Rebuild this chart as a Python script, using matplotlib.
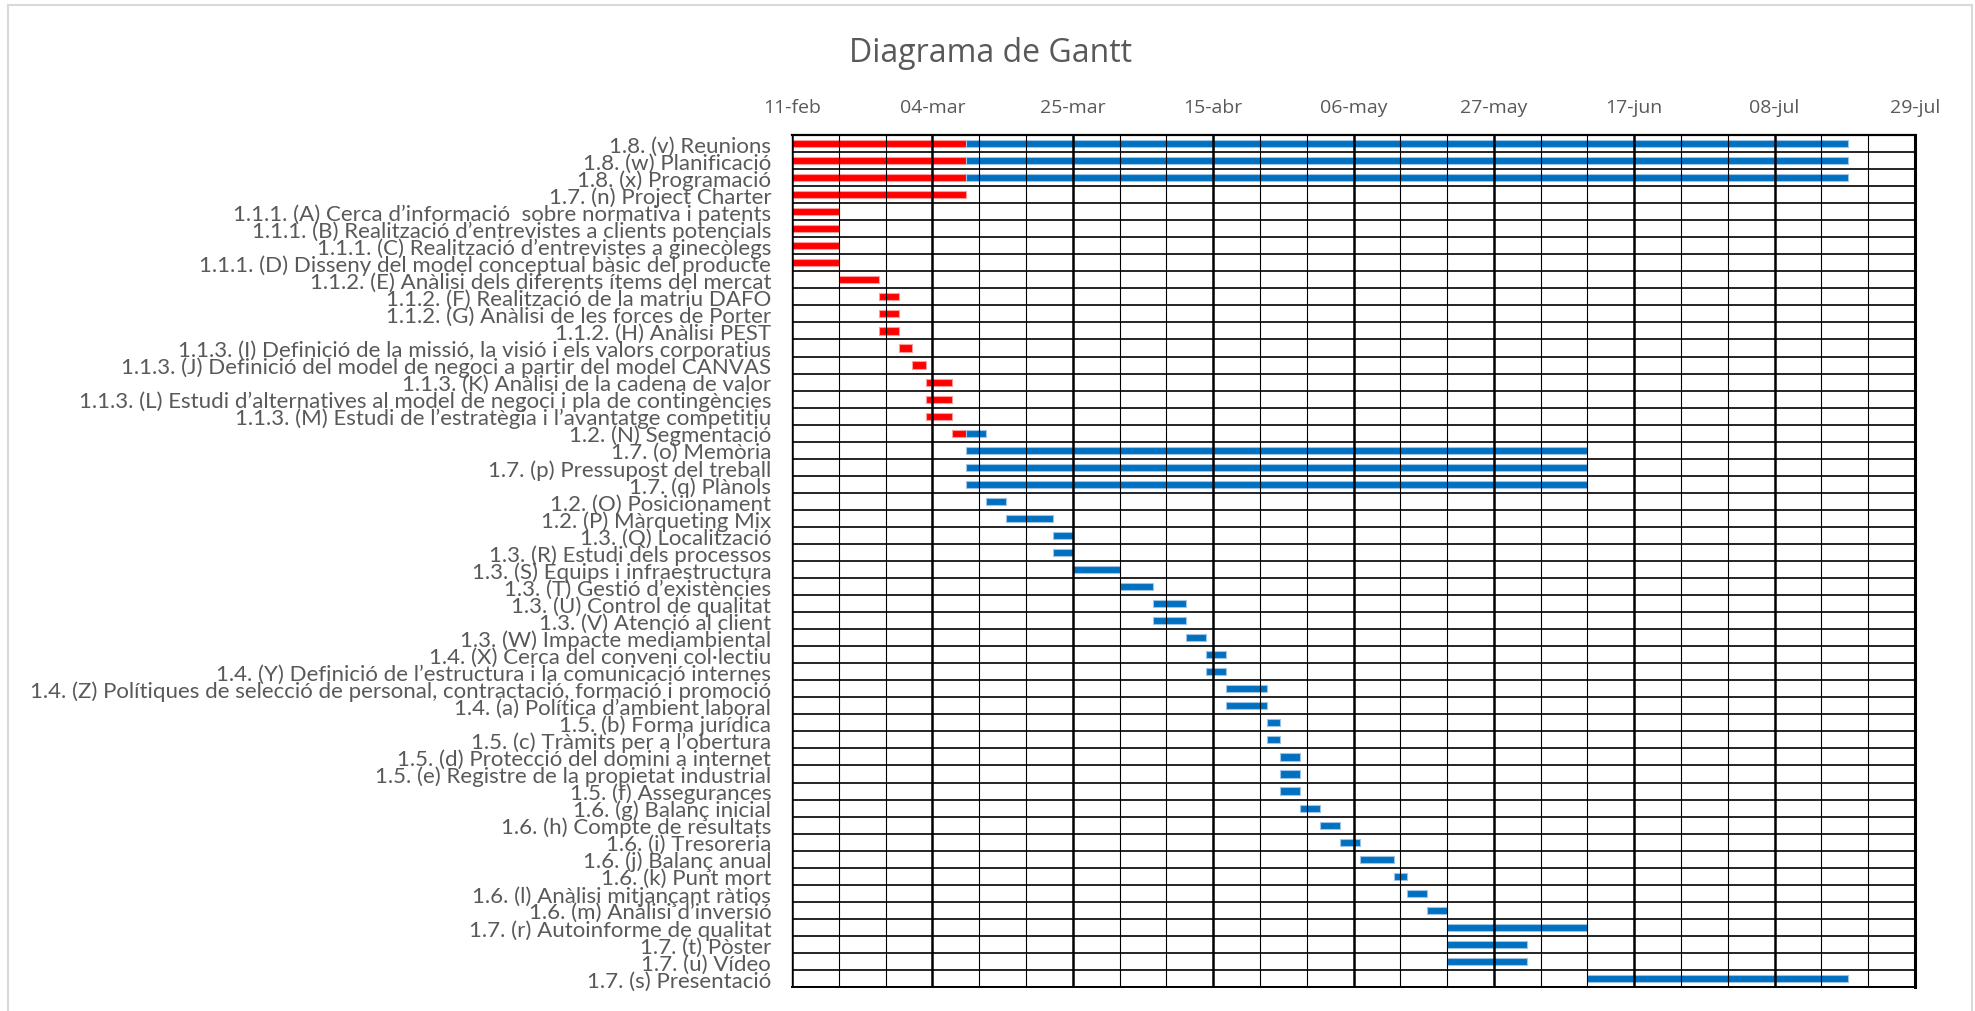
import numpy as np
import pandas as pd
import matplotlib
matplotlib.use('Agg')
import matplotlib.pyplot as plt
import matplotlib.dates as mdates
from matplotlib.patches import Rectangle

# ----------------------------------------------------------------------------------------------------------------------
# data

tasks = [
    '1.8. (v) Reunions', '1.8. (w) Planificació', '1.8. (x) Programació', '1.7. (n) Project Charter',
    '1.1.1. (A) Cerca d’informació  sobre normativa i patents',
    '1.1.1. (B) Realització d’entrevistes a clients potencials',
    '1.1.1. (C) Realització d’entrevistes a ginecòlegs',
    '1.1.1. (D) Disseny del model conceptual bàsic del producte',
    '1.1.2. (E) Anàlisi dels diferents ítems del mercat',
    '1.1.2. (F) Realització de la matriu DAFO',
    '1.1.2. (G) Anàlisi de les forces de Porter',
    '1.1.2. (H) Anàlisi PEST',
    '1.1.3. (I) Definició de la missió, la visió i els valors corporatius',
    '1.1.3. (J) Definició del model de negoci a partir del model CANVAS',
    '1.1.3. (K) Anàlisi de la cadena de valor',
    '1.1.3. (L) Estudi d’alternatives al model de negoci i pla de contingències',
    '1.1.3. (M) Estudi de l’estratègia i l’avantatge competitiu',
    '1.2. (N) Segmentació', '1.7. (o) Memòria', '1.7. (p) Pressupost del treball', '1.7. (q) Plànols',
    '1.2. (O) Posicionament', '1.2. (P) Màrqueting Mix', '1.3. (Q) Localització',
    '1.3. (R) Estudi dels processos', '1.3. (S) Equips i infraestructura', '1.3. (T) Gestió d’existències',
    '1.3. (U) Control de qualitat', '1.3. (V) Atenció al client', '1.3. (W) Impacte mediambiental',
    '1.4. (X) Cerca del conveni col·lectiu',
    '1.4. (Y) Definició de l’estructura i la comunicació internes',
    '1.4. (Z) Polítiques de selecció de personal, contractació, formació i promoció',
    '1.4. (a) Política d’ambient laboral', '1.5. (b) Forma jurídica', '1.5. (c) Tràmits per a l’obertura',
    '1.5. (d) Protecció del domini a internet', '1.5. (e) Registre de la propietat industrial',
    '1.5. (f) Assegurances', '1.6. (g) Balanç inicial', '1.6. (h) Compte de resultats',
    '1.6. (i) Tresoreria', '1.6. (j) Balanç anual', '1.6. (k) Punt mort',
    '1.6. (l) Anàlisi mitjançant ràtios', '1.6. (m) Anàlisi d’inversió',
    '1.7. (r) Autoinforme de qualitat', '1.7. (t) Pòster', '1.7. (u) Vídeo', '1.7. (s) Presentació',
]

start = [
    '2019-02-11', '2019-02-11', '2019-02-11', '2019-02-11',
    '2019-02-11', '2019-02-11', '2019-02-11', '2019-02-11',
    '2019-02-18', '2019-02-24', '2019-02-24', '2019-02-24',
    '2019-02-27', '2019-03-01', '2019-03-03', '2019-03-03', '2019-03-03',
    '2019-03-07', '2019-03-09', '2019-03-09', '2019-03-09',
    '2019-03-12', '2019-03-15', '2019-03-22', '2019-03-22', '2019-03-25', '2019-04-01',
    '2019-04-06', '2019-04-06', '2019-04-11', '2019-04-14', '2019-04-14',
    '2019-04-17', '2019-04-17', '2019-04-23', '2019-04-23',
    '2019-04-25', '2019-04-25', '2019-04-25', '2019-04-28', '2019-05-01',
    '2019-05-04', '2019-05-07', '2019-05-12', '2019-05-14', '2019-05-17',
    '2019-05-20', '2019-05-20', '2019-05-20', '2019-06-10',
]

# total duration (days) and days already done (red part)
duration = [158, 158, 158, 26, 7, 7, 7, 7, 6, 3, 3, 3, 2, 2, 4, 4, 4, 5, 93, 93, 93,
            3, 7, 3, 3, 7, 5, 5, 5, 3, 3, 3, 6, 6, 2, 2, 3, 3, 3, 3, 3, 3, 5, 2, 3, 3,
            21, 12, 12, 39]
done = [26, 26, 26, 26, 7, 7, 7, 7, 6, 3, 3, 3, 2, 2, 4, 4, 4, 2, 0, 0, 0,
        0, 0, 0, 0, 0, 0, 0, 0, 0, 0, 0, 0, 0, 0, 0, 0, 0, 0, 0, 0, 0, 0, 0, 0, 0,
        0, 0, 0, 0]

tick_labels = ['11-feb', '04-mar', '25-mar', '15-abr', '06-may', '27-may', '17-jun', '08-jul', '29-jul']
axis_start = '2019-02-11'
axis_end = '2019-07-29'

# ----------------------------------------------------------------------------------------------------------------------
# plot

grey = '#595959'
W, H = 1975, 1012
fig = plt.figure(figsize=(W / 100, H / 100), dpi=100)
ax = fig.add_axes([792 / W, 24 / H, 1123 / W, 852 / H])

y = np.arange(len(tasks))
left = mdates.date2num(pd.to_datetime(start))
duration = np.array(duration, dtype=float)
done = np.array(done, dtype=float)
rest = duration - done

m = done > 0
ax.barh(y[m], done[m], left=left[m], height=0.42, color='#FF0000', edgecolor='#ff9a9a', linewidth=0.8, zorder=1)
m = rest > 0
ax.barh(y[m], rest[m], left=left[m] + done[m], height=0.42, color='#0070C0', edgecolor='#9dc3e6',
        linewidth=0.8, zorder=1)

x0 = mdates.date2num(pd.Timestamp(axis_start))
x1 = mdates.date2num(pd.Timestamp(axis_end))
ax.set_xlim(x0, x1)
ax.set_ylim(len(tasks) - 0.5, -0.5)

ax.set_xticks(mdates.date2num(pd.date_range(axis_start, axis_end, freq='21D')))
ax.set_xticklabels(tick_labels)
ax.set_xticks(mdates.date2num(pd.date_range(axis_start, axis_end, freq='7D')), minor=True)
ax.set_yticks(y)
ax.set_yticklabels(tasks)
ax.set_yticks(np.arange(-0.5, len(tasks), 1), minor=True)

ax.xaxis.tick_top()
ax.tick_params(axis='x', which='both', length=0, pad=14, labelsize=14, labelcolor=grey)
ax.tick_params(axis='y', which='both', length=0, pad=15, labelsize=16, labelcolor=grey)
for lab in ax.get_xticklabels():
    lab.set_family('Open Sans')
for lab in ax.get_yticklabels():
    lab.set_family(['Lato', 'DejaVu Sans'])

ax.set_axisbelow(False)
ax.grid(which='major', axis='x', color='black', linewidth=1.8)
ax.grid(which='minor', axis='x', color='black', linewidth=0.8)
ax.grid(which='minor', axis='y', color='black', linewidth=1.2)

ax.spines['top'].set_linewidth(1.6)
ax.spines['right'].set_linewidth(2.2)
ax.spines['bottom'].set_linewidth(1.4)
ax.spines['left'].set_color('#d0d0d0')
ax.spines['left'].set_linewidth(1.5)

fig.text(991 / W, 1 - 54 / H, 'Diagrama de Gantt', ha='center', va='center', fontsize=23, color=grey,
         family='Open Sans')

fig.patches.append(Rectangle((8 / W, -0.05), 1964 / W, 1 - 6 / H + 0.05, transform=fig.transFigure,
                             fill=False, edgecolor='#d9d9d9', linewidth=1.5))

fig.savefig('out.png', dpi=100)
